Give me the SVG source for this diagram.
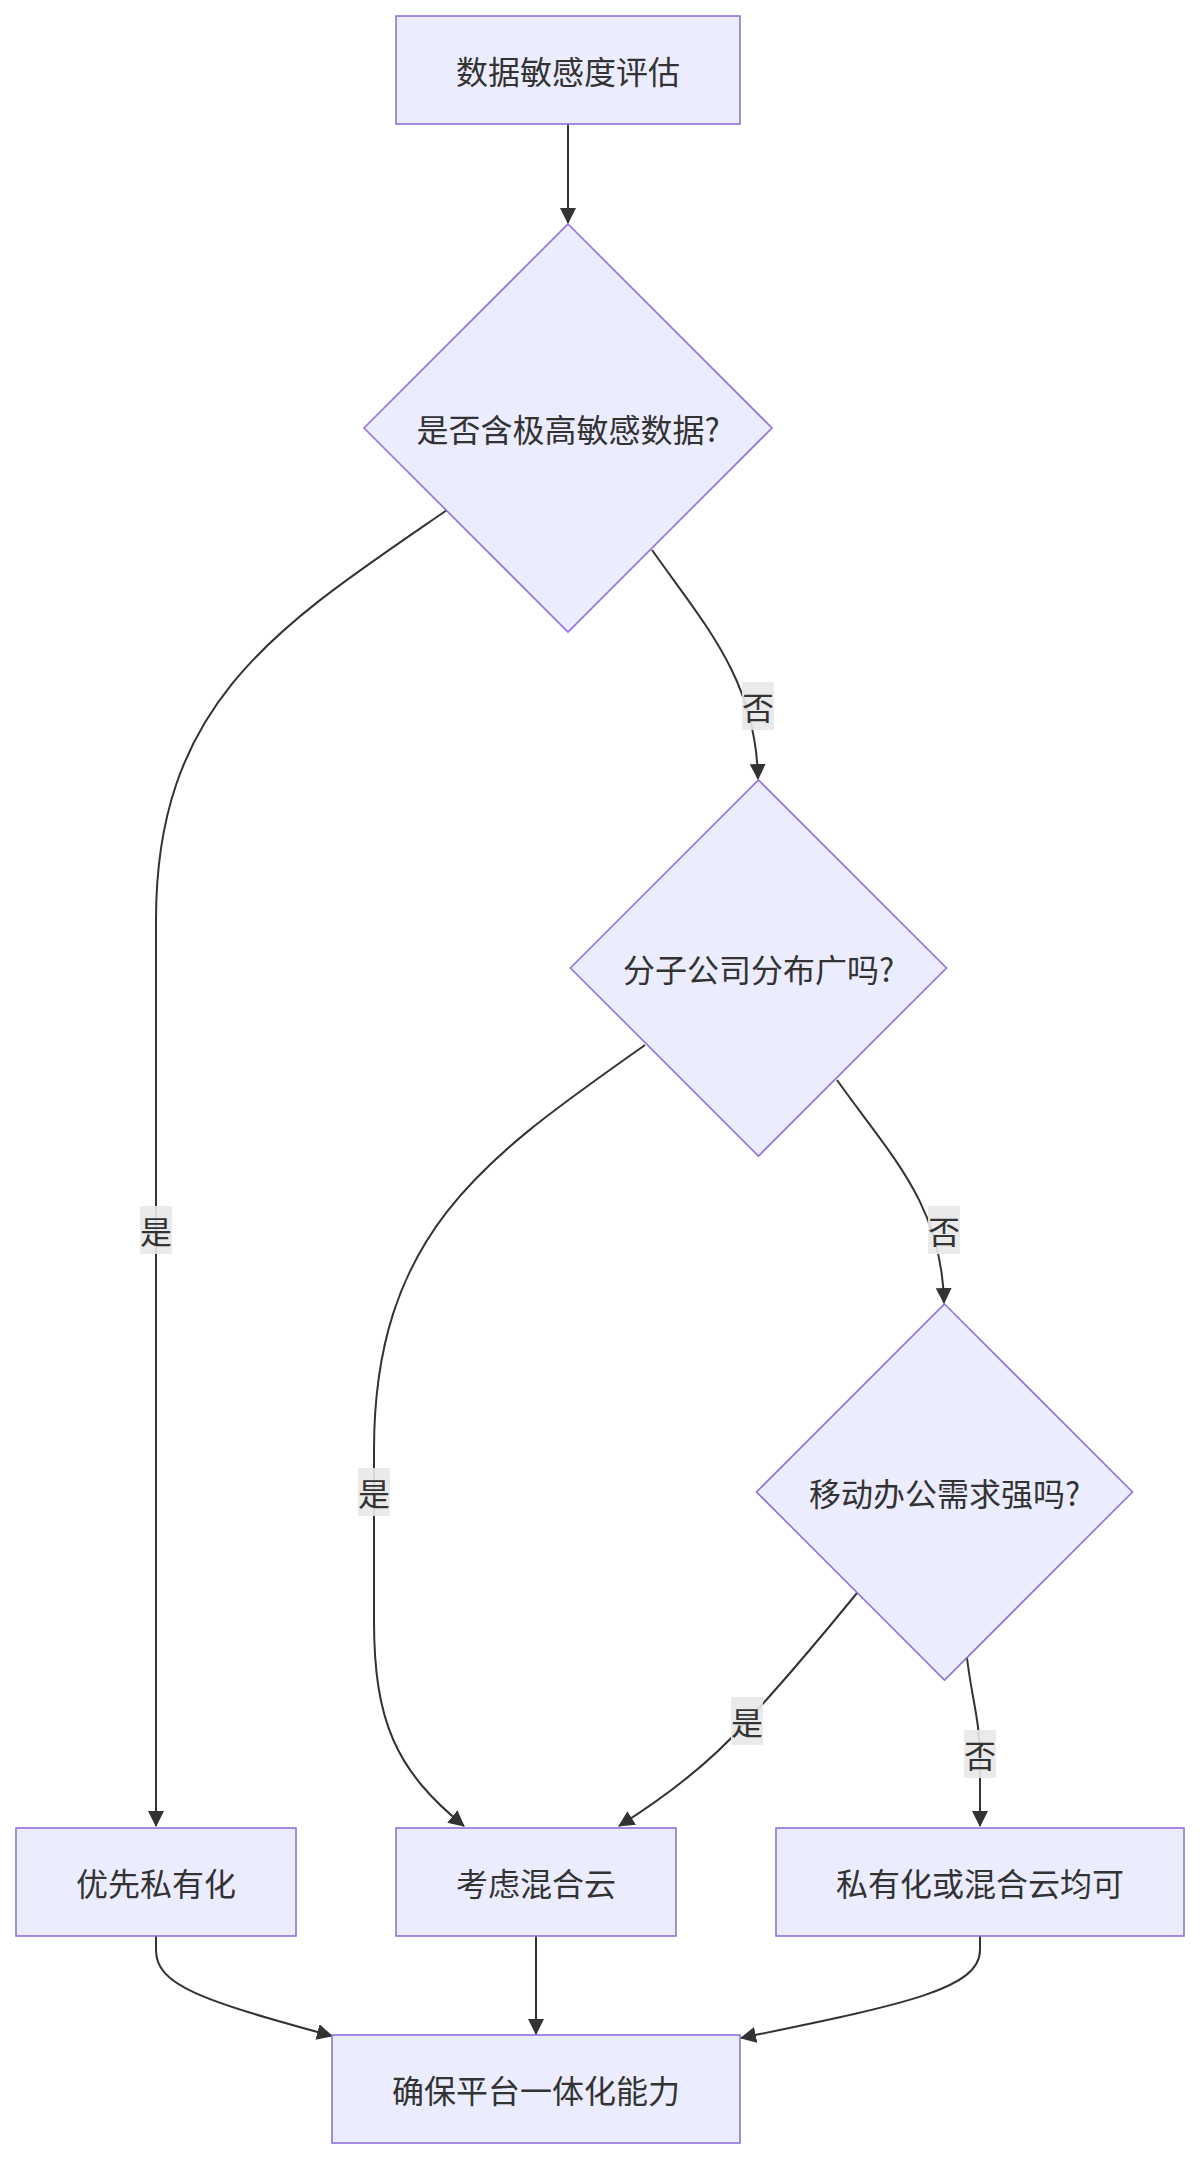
<svg xmlns="http://www.w3.org/2000/svg" width="1200" height="2159" viewBox="0 0 1200 2159">
<style>
.node rect,.node polygon{fill:#ECECFF;stroke:#9370DB;stroke-width:1.6}
.t{font-family:"Noto Sans CJK SC","Noto Sans",sans-serif;font-size:32px;fill:#333333;text-anchor:middle;dominant-baseline:central}
.e{fill:none;stroke:#333333;stroke-width:2}
.lb{fill:#e8e8e8;fill-opacity:0.9}
</style>
<defs>
<marker id="arr" markerUnits="userSpaceOnUse" viewBox="0 0 16 16" markerWidth="16" markerHeight="16" refX="15" refY="8" orient="auto">
<path d="M0,0 L16,8 L0,16 z" fill="#333333"/>
</marker>
</defs>
<g id="edges">
<path class="e" d="M568,124 L568,223" marker-end="url(#arr)"/>
<path class="e" d="M447,510 C280,625 156,700 156,920 L156,1826" marker-end="url(#arr)"/>
<path class="e" d="M652,550 C705,625 756,680 758,779" marker-end="url(#arr)"/>
<path class="e" d="M645,1045 C490,1155 374,1230 374,1450 L374,1620 C374,1720 395,1770 464,1826" marker-end="url(#arr)"/>
<path class="e" d="M837,1080 C890,1155 942,1204 944,1303" marker-end="url(#arr)"/>
<path class="e" d="M857,1593 Q790,1675 747,1721 Q700,1775 619,1826" marker-end="url(#arr)"/>
<path class="e" d="M967,1658 C972,1700 980,1720 980,1760 L980,1826" marker-end="url(#arr)"/>
<path class="e" d="M156,1936 L156,1950 C156,1985 200,2000 332,2036" marker-end="url(#arr)"/>
<path class="e" d="M536,1936 L536,2034" marker-end="url(#arr)"/>
<path class="e" d="M980,1936 L980,1950 C980,1990 900,2005 741,2038" marker-end="url(#arr)"/>
<g id="edge-labels">
<rect class="lb" x="140" y="1206" width="32" height="48"/><text class="t" x="156" y="1230">是</text>
<rect class="lb" x="742" y="682" width="32" height="48"/><text class="t" x="758" y="706">否</text>
<rect class="lb" x="358" y="1468" width="32" height="48"/><text class="t" x="374" y="1492">是</text>
<rect class="lb" x="928" y="1206" width="32" height="48"/><text class="t" x="944" y="1230">否</text>
<rect class="lb" x="731" y="1697" width="32" height="48"/><text class="t" x="747" y="1721">是</text>
<rect class="lb" x="964" y="1730" width="32" height="48"/><text class="t" x="980" y="1754">否</text>
</g>
</g>
<g id="n-start" class="node"><rect x="396" y="16" width="344" height="108"/><text class="t" x="568" y="70">数据敏感度评估</text></g>
<g id="n-q1" class="node"><polygon points="568,224 772,428 568,632 364,428"/><text class="t" x="568" y="428">是否含极高敏感数据?</text></g>
<g id="n-q2" class="node"><polygon points="758.5,780 946.5,968 758.5,1156 570.5,968"/><text class="t" x="758.5" y="968">分子公司分布广吗?</text></g>
<g id="n-q3" class="node"><polygon points="944.5,1304 1132.5,1492 944.5,1680 756.5,1492"/><text class="t" x="944.5" y="1492">移动办公需求强吗?</text></g>
<g id="n-private" class="node"><rect x="16" y="1828" width="280" height="108"/><text class="t" x="156" y="1882">优先私有化</text></g>
<g id="n-hybrid" class="node"><rect x="396" y="1828" width="280" height="108"/><text class="t" x="536" y="1882">考虑混合云</text></g>
<g id="n-either" class="node"><rect x="776" y="1828" width="408" height="108"/><text class="t" x="980" y="1882">私有化或混合云均可</text></g>
<g id="n-end" class="node"><rect x="332" y="2035" width="408" height="108"/><text class="t" x="536" y="2089">确保平台一体化能力</text></g>
</svg>
